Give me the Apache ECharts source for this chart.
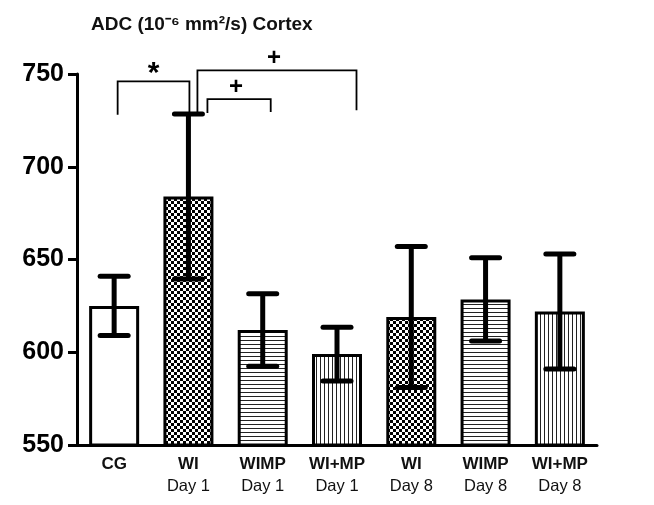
<!DOCTYPE html>
<html><head><meta charset="utf-8">
<script src="https://cdn.jsdelivr.net/npm/echarts@6/dist/echarts.min.js"></script>
<style>html,body{margin:0;padding:0;background:#fff}#c{width:654px;height:505px}</style>
</head><body><div id="c"></div>
<script>
// ---- data ----
const categories = ['CG', 'WI\nDay 1', 'WIMP\nDay 1', 'WI+MP\nDay 1', 'WI\nDay 8', 'WIMP\nDay 8', 'WI+MP\nDay 8'];
const means  = [625, 684, 612, 599, 619, 628.5, 622];
const errors = [16, 44.5, 19.5, 14.5, 38, 22.5, 31];
const yTicks = [550, 600, 650, 700, 750];
// significance brackets: from category, to category, bracket level, left/right leg ends, mark
const bracketFrom  = [0, 1, 1];
const bracketTo    = [1, 3, 2];
const bracketTop   = [746, 752, 736.5];
const bracketLeftEnd  = [728, 729, 729];
const bracketRightEnd = [728, 730.5, 729.5];
const bracketMarks = ['*', '+', '+'];

// ---- styles ----
const patternKind = ['none', 'checker', 'hlines', 'vlines', 'checker', 'hlines', 'vlines'];
const bracketPx = [[3.5, 1], [9, 19.5], [19, 8]];
const FONT = '"Liberation Sans", Arial, Helvetica, sans-serif';

function pattern(kind) {
  if (kind === 'none') return '#ffffff';
  const c = document.createElement('canvas');
  const ctx = c.getContext('2d');
  if (kind === 'checker') {
    c.width = 6; c.height = 6;
    ctx.fillStyle = '#fff'; ctx.fillRect(0, 0, 6, 6);
    ctx.fillStyle = '#000'; ctx.fillRect(0, 0, 3, 3); ctx.fillRect(3, 3, 3, 3);
  } else if (kind === 'hlines') {
    c.width = 4; c.height = 4;
    ctx.fillStyle = '#fff'; ctx.fillRect(0, 0, 4, 4);
    ctx.fillStyle = '#222'; ctx.fillRect(0, 0, 4, 1);
  } else {
    c.width = 4; c.height = 4;
    ctx.fillStyle = '#fff'; ctx.fillRect(0, 0, 4, 4);
    ctx.fillStyle = '#222'; ctx.fillRect(0, 0, 1, 4);
  }
  return { image: c, repeat: 'repeat' };
}

const chart = echarts.init(document.getElementById('c'), null, { renderer: 'canvas' });

const barData = means.map((v, i) => ({
  value: v,
  itemStyle: { color: pattern(patternKind[i]), borderColor: '#000', borderWidth: 3 }
}));
const errData = means.map((v, i) => [i, v - errors[i], v + errors[i]]);
const bracketData = bracketFrom.map((f, i) => [f, bracketTo[i], bracketTop[i], bracketLeftEnd[i], bracketRightEnd[i], i]);

chart.setOption({
  animation: false,
  backgroundColor: '#fff',
  title: {
    text: 'ADC (10⁻⁶ mm²/s) Cortex',
    left: 86, top: 10,
    textStyle: { fontFamily: FONT, fontSize: 19, fontWeight: 'bold', color: '#111' }
  },
  grid: { left: 77, right: 57, top: 74, bottom: 60, containLabel: false },
  xAxis: {
    type: 'category',
    data: categories,
    axisLine: { lineStyle: { color: '#000', width: 3 } },
    axisTick: { show: false },
    axisLabel: {
      interval: 0,
      margin: 8,
      formatter: function (v) {
        const parts = v.split('\n');
        return parts.length > 1 ? '{b|' + parts[0] + '}\n{n|' + parts[1] + '}' : '{b|' + parts[0] + '}';
      },
      rich: {
        b: { fontFamily: FONT, fontSize: 17, fontWeight: 'bold', color: '#111', lineHeight: 22 },
        n: { fontFamily: FONT, fontSize: 16.5, color: '#111', lineHeight: 22 }
      }
    }
  },
  yAxis: {
    type: 'value',
    min: yTicks[0], max: yTicks[yTicks.length - 1], interval: yTicks[1] - yTicks[0],
    axisLine: { show: true, lineStyle: { color: '#000', width: 3 } },
    axisTick: { show: true, length: 9, lineStyle: { color: '#000', width: 3 } },
    splitLine: { show: false },
    axisLabel: { margin: 13, fontFamily: FONT, fontSize: 25, fontWeight: 'bold', color: '#000' }
  },
  series: [
    {
      type: 'bar',
      data: barData,
      barWidth: 50,
      z: 2
    },
    {
      type: 'custom',
      data: errData,
      encode: { x: 0, y: [1, 2] },
      z: 5,
      renderItem: function (params, api) {
        const i = api.value(0);
        const lo = api.coord([i, api.value(1)]);
        const hi = api.coord([i, api.value(2)]);
        const hw = 14;
        const st = { stroke: '#000', lineWidth: 5, lineCap: 'round' };
        return {
          type: 'group',
          children: [
            { type: 'line', shape: { x1: lo[0], y1: lo[1], x2: hi[0], y2: hi[1] }, style: { stroke: '#000', lineWidth: 5 } },
            { type: 'line', shape: { x1: hi[0] - hw, y1: hi[1], x2: hi[0] + hw, y2: hi[1] }, style: st },
            { type: 'line', shape: { x1: lo[0] - hw, y1: lo[1], x2: lo[0] + hw, y2: lo[1] }, style: st }
          ]
        };
      }
    },
    {
      type: 'custom',
      data: bracketData,
      encode: { x: [0, 1], y: [2, 3, 4] },
      clip: false,
      z: 6,
      renderItem: function (params, api) {
        const k = api.value(5);
        const off = bracketPx[k];
        const top = api.value(2);
        const pL = api.coord([api.value(0), top]);
        const pR = api.coord([api.value(1), top]);
        const eL = api.coord([api.value(0), api.value(3)]);
        const eR = api.coord([api.value(1), api.value(4)]);
        const xL = pL[0] + off[0], xR = pR[0] + off[1];
        const mark = bracketMarks[k];
        return {
          type: 'group',
          children: [
            { type: 'polyline', shape: { points: [[xL, eL[1]], [xL, pL[1]], [xR, pR[1]], [xR, eR[1]]] },
              style: { stroke: '#000', lineWidth: 1.8, fill: null } },
            { type: 'text', style: {
                text: mark, x: (xL + xR) / 2 - (mark === '*' ? 0 : 3), y: pL[1] - (mark === '*' ? 8 : 12),
                textAlign: 'center', textVerticalAlign: 'middle',
                font: 'bold ' + (mark === '*' ? 30 : 24) + 'px ' + FONT, fill: '#000' } }
          ]
        };
      }
    }
  ]
});
</script>
</body></html>
